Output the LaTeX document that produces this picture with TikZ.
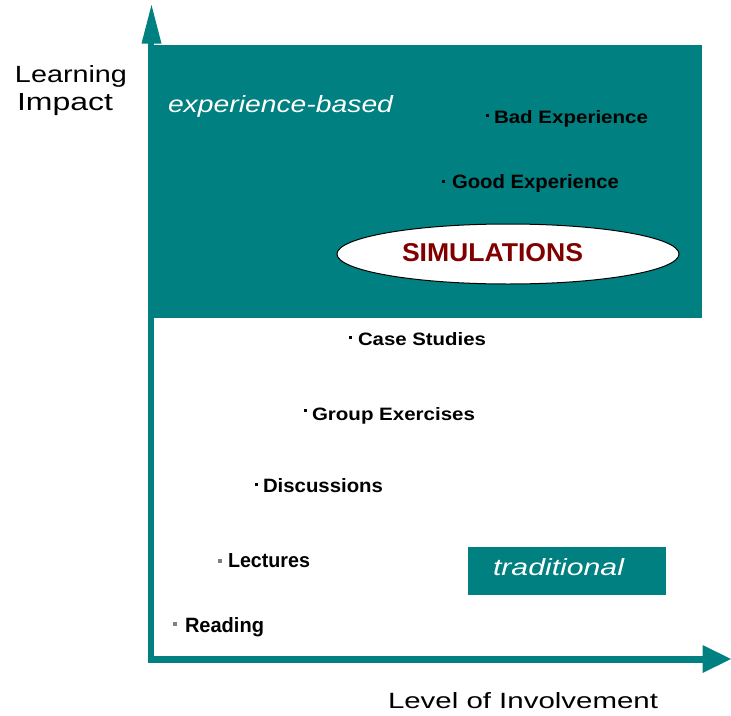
\documentclass[tikz,border=0pt]{standalone}
\usepackage{fontspec}
\setmainfont{Liberation Sans}
\usetikzlibrary{shapes.geometric}
\definecolor{teal1}{RGB}{0,128,128}
\definecolor{simred}{RGB}{128,0,0}
\definecolor{dotgrey}{RGB}{128,128,128}
\newcommand{\fitt}[3]{\resizebox{#1pt}{#2pt}{#3}}
\begin{document}
\begin{tikzpicture}[x=1pt,y=-1pt,
  lbl/.style={anchor=base west, inner sep=0pt, outer sep=0pt},
  blackdot/.style={rectangle, fill=black, inner sep=0pt, minimum size=3pt},
  greydot/.style={rectangle, fill=dotgrey, inner sep=0pt, minimum size=3.5pt},
  axisline/.style={draw=teal1, line width=6.5pt, line join=miter},
  panel/.style={rectangle, fill=teal1, inner sep=0pt, outer sep=0pt}]
\useasboundingbox (0,0) rectangle (731,715);
% experience-based panel
\node[panel, minimum width=554pt, minimum height=273pt] (exppanel) at (425,181.5) {};
% axes
\coordinate (ytop) at (151,43);
\coordinate (origin) at (151,659.5);
\coordinate (xend) at (703,659.5);
\draw[axisline] (ytop) -- (origin) -- (xend);
\fill[teal1] (141.5,43.5) -- (151.5,5) -- (161.5,43.5) -- cycle;
\fill[teal1] (702.5,645) -- (731,659) -- (702.5,673) -- cycle;
% axis labels
\node[lbl] (learning) at (15,82) {\fitt{112}{17}{Learning}};
\node[lbl] (impact) at (17,110) {\fitt{96}{17}{Impact}};
\node[lbl] (involve) at (388,708) {\fitt{270}{16}{Level of Involvement}};
% panel contents
\node[lbl, text=white] (exptitle) at (168,112) {\fitt{225}{17}{\itshape experience-based}};
\node[blackdot] (dbad) at (487,115) {};
\node[lbl] (bad) at (494,123) {\fitt{154}{13}{\bfseries Bad Experience}};
\node[blackdot] (dgood) at (443,181) {};
\node[lbl] (good) at (452,188) {\fitt{167}{14}{\bfseries Good Experience}};
\node[ellipse, draw=black, fill=white, line width=1pt, minimum width=342pt, minimum height=60pt, inner sep=0pt] (simell) at (508,254) {};
\node[lbl, text=simred] (sim) at (402,261) {\fitt{181}{18}{\bfseries SIMULATIONS}};
% lower items
\node[blackdot] (dcase) at (350,337) {};
\node[lbl] (case) at (358,345) {\fitt{128}{13}{\bfseries Case Studies}};
\node[blackdot] (dgroup) at (305,410) {};
\node[lbl] (group) at (312,420) {\fitt{163}{13}{\bfseries Group Exercises}};
\node[blackdot] (ddisc) at (256,484) {};
\node[lbl] (disc) at (263,492) {\fitt{120}{14}{\bfseries Discussions}};
\node[greydot] (dlect) at (220,561) {};
\node[lbl] (lect) at (228,567) {\fitt{82}{14}{\bfseries Lectures}};
\node[greydot] (dread) at (175,624) {};
\node[lbl] (read) at (185,632) {\fitt{79}{15}{\bfseries Reading}};
% traditional box
\node[panel, minimum width=198pt, minimum height=48pt] (tradbox) at (567,571) {};
\node[lbl, text=white] (trad) at (493,575) {\fitt{131}{17}{\itshape traditional}};
\end{tikzpicture}
\end{document}
